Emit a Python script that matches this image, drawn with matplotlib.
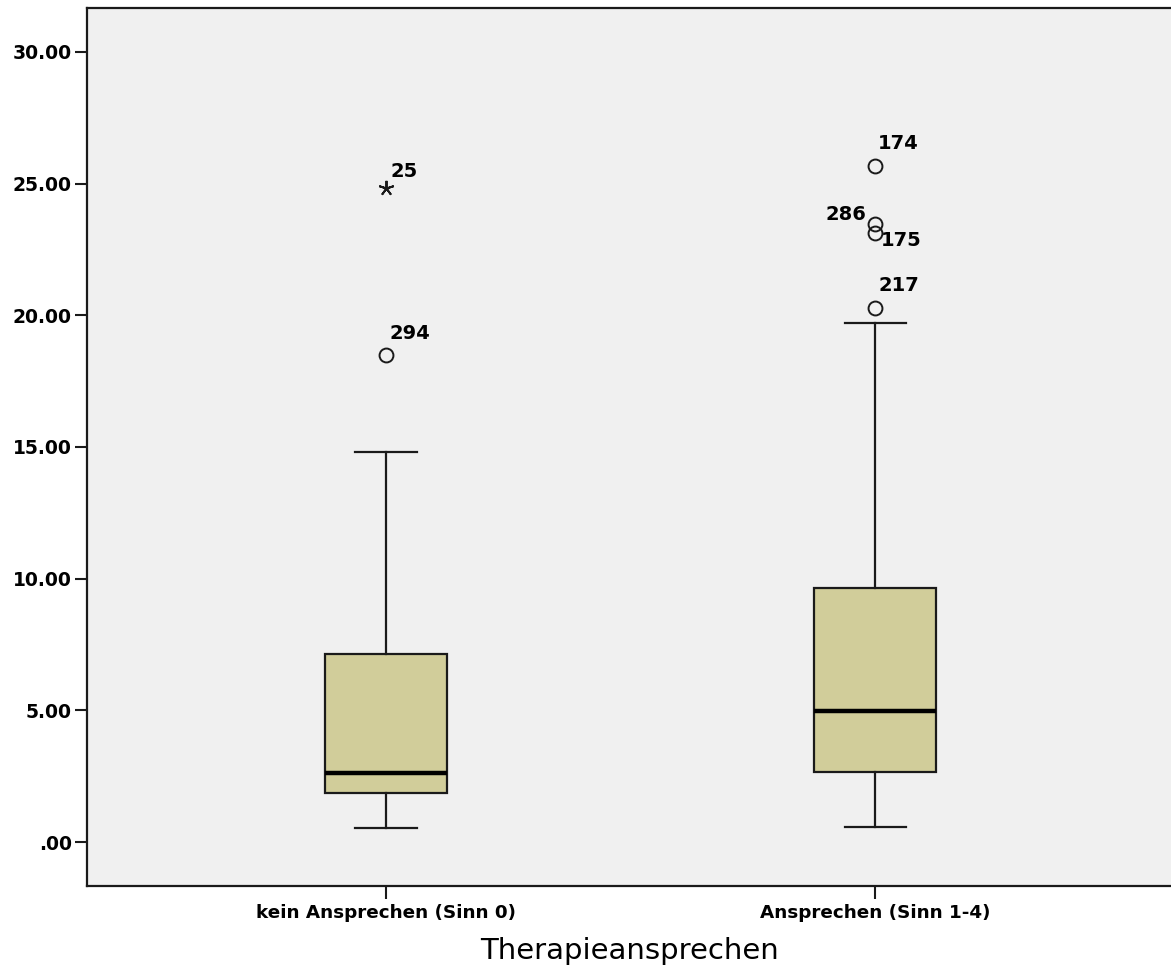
import matplotlib
matplotlib.use("Agg")
import matplotlib.pyplot as plt

# ---- data ----
categories = ["kein Ansprechen (Sinn 0)", "Ansprechen (Sinn 1-4)"]
whislo = [0.53, 0.57]
q1 = [1.86, 2.66]
med = [2.62, 4.98]
q3 = [7.14, 9.63]
whishi = [14.81, 19.71]
outliers_circle = [[18.5], [25.67, 23.47, 23.13, 20.28]]
outlier_circle_labels = [["294"], ["174", "286", "175", "217"]]
outliers_star = [[24.84], []]
outlier_star_labels = [["25"], []]
ytick_vals = [0, 5, 10, 15, 20, 25, 30]
ytick_labels = [".00", "5.00", "10.00", "15.00", "20.00", "25.00", "30.00"]
xlabel = "Therapieansprechen"

plt.rcParams['font.family'] = ['DejaVu Sans']

fig = plt.figure(figsize=(11.71, 9.76), dpi=100)
ax = fig.add_axes([87/1171, (976-886)/976, (1171-87)/1171, (886-8)/976])
ax.set_facecolor("#F0F0F0")

positions = [1, 2]
stats = []
for i in range(2):
    stats.append(dict(whislo=whislo[i], q1=q1[i], med=med[i], q3=q3[i],
                      whishi=whishi[i], fliers=[], label=categories[i]))

ax.bxp(stats, positions=positions, widths=0.25, capwidths=0.125,
       showfliers=False, patch_artist=True,
       boxprops=dict(facecolor="#D1CD9A", edgecolor="#1a1a1a", linewidth=1.6),
       medianprops=dict(color="black", linewidth=3.2),
       whiskerprops=dict(color="#1a1a1a", linewidth=1.6),
       capprops=dict(color="#1a1a1a", linewidth=1.6))

label_offsets = {"294": (3, 12, 'left'), "174": (3, 13, 'left'),
                 "286": (-9, 0, 'right'), "175": (6, -17, 'left'),
                 "217": (3, 13, 'left'), "25": (4, 7, 'left')}

for i, pos in enumerate(positions):
    ys = outliers_circle[i]
    ax.plot([pos]*len(ys), ys, linestyle='none', marker='o', markersize=10,
            markerfacecolor='none', markeredgecolor='#1a1a1a', markeredgewidth=1.4)
    for y, lab in zip(ys, outlier_circle_labels[i]):
        dx, dy, ha = label_offsets[lab]
        ax.annotate(lab, (pos, y), xytext=(dx, dy), textcoords='offset pixels',
                    ha=ha, va='bottom', fontsize=14, fontweight='bold')
    ys = outliers_star[i]
    ax.plot([pos]*len(ys), ys, linestyle='none', marker=(5, 2, 0), markersize=11,
            color='#1a1a1a', markeredgewidth=1.4)
    for y, lab in zip(ys, outlier_star_labels[i]):
        dx, dy, ha = label_offsets[lab]
        ax.annotate(lab, (pos, y), xytext=(dx, dy), textcoords='offset pixels',
                    ha=ha, va='bottom', fontsize=14, fontweight='bold')

ax.set_xlim(0.3885, 2.605)
ax.set_ylim(-1.67, 31.67)
ax.set_yticks(ytick_vals)
ax.set_yticklabels(ytick_labels, fontsize=13.5, fontweight='bold')
ax.set_xticks(positions)
ax.set_xticklabels(categories, fontsize=13.2, fontweight='bold')
ax.tick_params(axis='both', direction='out', length=9, width=1.5, color='#1a1a1a')
ax.tick_params(axis='y', pad=2)
ax.tick_params(axis='x', pad=4)
ax.set_xlabel(xlabel, fontsize=21, labelpad=11)

for s in ['left', 'bottom', 'top']:
    ax.spines[s].set_linewidth(1.6)
    ax.spines[s].set_color('#1a1a1a')
ax.spines['right'].set_visible(False)

fig.savefig("out.png", dpi=100)
